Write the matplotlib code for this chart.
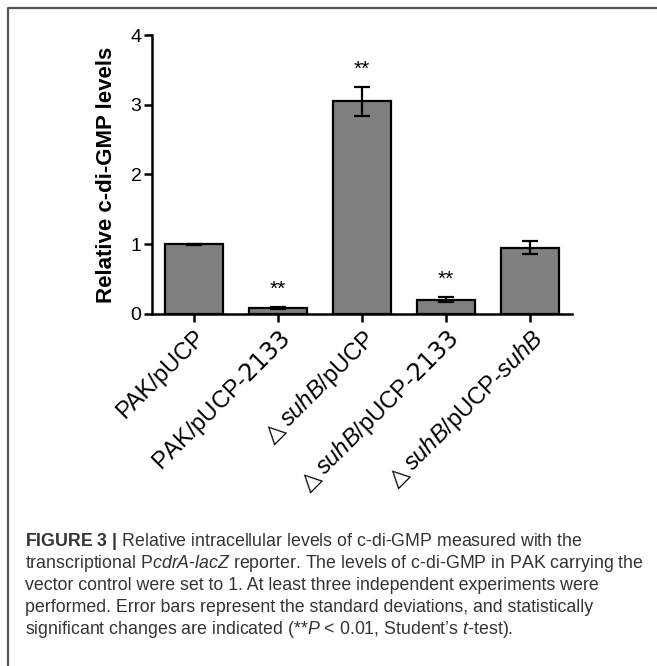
import matplotlib
matplotlib.use('Agg')
import matplotlib.pyplot as plt
from matplotlib.lines import Line2D
from matplotlib.transforms import ScaledTranslation

# fonts: Arial-like text, italic gene names through mathtext
plt.rcParams['font.family'] = ['Liberation Sans', 'DejaVu Sans']
plt.rcParams['mathtext.fontset'] = 'custom'
plt.rcParams['mathtext.rm'] = 'DejaVu Sans'
plt.rcParams['mathtext.it'] = 'Liberation Sans:italic'
plt.rcParams['mathtext.bf'] = 'Liberation Sans:bold'

# data
strains = [r'PAK/pUCP',
           r'PAK/pUCP-$\mathit{2133}$',
           r'$\mathrm{\triangle}$$\mathit{suhB}$/pUCP',
           r'$\mathrm{\triangle}$$\mathit{suhB}$/pUCP-$\mathit{2133}$',
           r'$\mathrm{\triangle}$$\mathit{suhB}$/pUCP-$\mathit{suhB}$']
levels = [1.0, 0.09, 3.05, 0.205, 0.95]
sd = [0.01, 0.015, 0.21, 0.035, 0.09]
signif = ['', '**', '**', '**', '']
yticks = [0, 1, 2, 3, 4]

caption = [
    r'$\mathbf{FIGURE\ 3\ |}$ Relative intracellular levels of c-di-GMP measured with the',
    r'transcriptional P$\mathit{cdrA}$-$\mathit{lacZ}$ reporter. The levels of c-di-GMP in PAK carrying the',
    'vector control were set to 1. At least three independent experiments were',
    'performed. Error bars represent the standard deviations, and statistically',
    r'significant changes are indicated (**$\mathit{P}$ < 0.01, Student’s $\mathit{t}$-test).',
]

W, H = 657, 666
fig = plt.figure(figsize=(W / 100, H / 100), dpi=100)
ax = fig.add_axes([152 / W, 1 - 314 / H, 420 / W, 279 / H])

x = list(range(len(strains)))
ax.bar(x, levels, width=0.68, color='#808080', edgecolor='black', linewidth=1.6,
       yerr=sd, capsize=5.5,
       error_kw=dict(elinewidth=1.6, capthick=1.6, ecolor='black'), zorder=2)

# significance stars above the error bars
for i, s in enumerate(signif):
    if s:
        ax.text(i, levels[i] + sd[i] + 0.25, s, ha='center', va='center',
                fontsize=15, color='black')

ax.set_xlim(-0.5, len(strains) - 0.5)
ax.set_ylim(0, 4)
ax.set_yticks(yticks)
ax.set_yticklabels([str(t) for t in yticks], fontsize=14)
ax.set_xticks(x)
ax.set_xticklabels(strains, fontsize=17, rotation=45, ha='right', va='top',
                   rotation_mode='anchor')
shift = ScaledTranslation(4 / 72, 0, fig.dpi_scale_trans)
for lab in ax.get_xticklabels():
    lab.set_transform(lab.get_transform() + shift)

for side in ['top', 'right']:
    ax.spines[side].set_visible(False)
for side in ['left', 'bottom']:
    ax.spines[side].set_linewidth(1.8)
ax.tick_params(axis='both', width=1.8, length=5.5, color='black')
ax.tick_params(axis='y', pad=2)
ax.tick_params(axis='x', pad=3)

ax.set_ylabel('Relative c-di-GMP levels', fontsize=16, fontweight='bold')
ax.yaxis.set_label_coords(-0.083, 0.5)

# frame line around the figure panel (top and left only visible)
fig.add_artist(Line2D([8 / W, 8 / W, 1], [0, 1 - 8 / H, 1 - 8 / H],
                      transform=fig.transFigure, color='#555555', lw=1.6))

# caption
for k, line in enumerate(caption):
    fig.text(25 / W, 1 - (541 + 22 * k) / H, line, fontsize=12.8, color='#333333',
             ha='left', va='center')

fig.savefig('out.png', dpi=100)
